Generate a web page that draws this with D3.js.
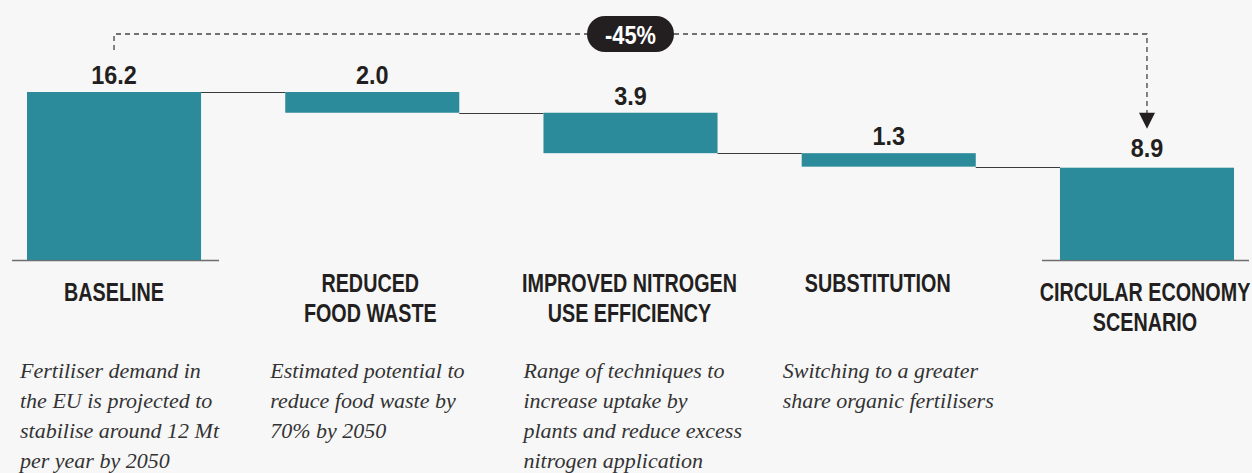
<!DOCTYPE html>
<html>
<head>
<meta charset="utf-8">
<script src="https://cdn.jsdelivr.net/npm/d3@7"></script>
<style>
  html, body { margin: 0; padding: 0; background: #f7f7f7; }
  svg { display: block; }
  .cond { font-family: "Liberation Sans Narrow", "Liberation Sans", Arial, sans-serif; font-weight: bold; }
  .desc { font-family: "Liberation Serif", "Times New Roman", serif; font-style: italic; }
</style>
</head>
<body>
<svg id="chart" width="1252" height="473"></svg>
<script>
// Waterfall: fertiliser demand (Mt) from baseline to the circular economy scenario
const categories = ["BASELINE", "REDUCED FOOD WASTE", "IMPROVED NITROGEN USE EFFICIENCY", "SUBSTITUTION", "CIRCULAR ECONOMY SCENARIO"];
const labelLines = [
  ["BASELINE"],
  ["REDUCED", "FOOD WASTE"],
  ["IMPROVED NITROGEN", "USE EFFICIENCY"],
  ["SUBSTITUTION"],
  ["CIRCULAR ECONOMY", "SCENARIO"]
];
const kinds = ["total", "decrease", "decrease", "decrease", "total"];
const values = [16.2, 2.0, 3.9, 1.3, 8.9];
const valueLabels = ["16.2", "2.0", "3.9", "1.3", "8.9"];
const descriptions = [
  ["Fertiliser demand in", "the EU is projected to", "stabilise around 12 Mt", "per year by 2050"],
  ["Estimated potential to", "reduce food waste by", "70% by 2050"],
  ["Range of techniques to", "increase uptake by", "plants and reduce excess", "nitrogen application"],
  ["Switching to a greater", "share organic fertilisers"],
  []
];
const changeLabel = "-45%";

const svg = d3.select("#chart");
const W = 1252, H = 473;
const teal = "#2c8b9b", ink = "#231f20";

svg.append("rect").attr("width", W).attr("height", H).attr("fill", "#f7f7f7");

const x = d3.scaleBand().domain(categories).range([27, 1234]).paddingInner(0.326).paddingOuter(0);
const y = d3.scaleLinear().domain([0, 16.2]).range([260, 92]);

// horizontally condensed text (narrow headline style)
function condText(parent, cx, cy, size, sx, lines, lineH, fill) {
  const t = parent.append("text")
    .attr("class", "cond")
    .attr("transform", `translate(${cx},${cy}) scale(${sx},1)`)
    .attr("text-anchor", "middle")
    .attr("font-size", size)
    .attr("fill", fill);
  lines.forEach((ln, k) => {
    t.append("tspan").attr("x", 0).attr("y", k * lineH).text(ln);
  });
  return t;
}

// running totals for floating bars
let running = 0;
const bars = categories.map((c, i) => {
  let top, bottom;
  if (kinds[i] === "total") {
    running = values[i];
    top = values[i]; bottom = 0;
  } else {
    top = running; bottom = running - values[i];
    running = bottom;
  }
  return { cat: c, i, top, bottom, end: running };
});

// baseline rules under the totals
bars.filter(b => kinds[b.i] === "total").forEach(b => {
  const left = b.i === 0 ? x(b.cat) - 15 : x(b.cat) - 18;
  const right = b.i === 0 ? x(b.cat) + x.bandwidth() + 18 : x(b.cat) + x.bandwidth() + 15;
  svg.append("line")
    .attr("x1", left).attr("x2", right)
    .attr("y1", y(0) + 0.5).attr("y2", y(0) + 0.5)
    .attr("stroke", "#6d6e71").attr("stroke-width", 1.6);
});

// connectors between consecutive bars
for (let i = 0; i < bars.length - 1; i++) {
  const a = bars[i], b = bars[i + 1];
  svg.append("line")
    .attr("x1", x(a.cat) + x.bandwidth()).attr("x2", x(b.cat))
    .attr("y1", Math.round(y(a.end)) + 0.5).attr("y2", Math.round(y(a.end)) + 0.5)
    .attr("stroke", "#3a3a3a").attr("stroke-width", 1.2);
}

svg.append("g").selectAll("rect").data(bars).join("rect")
  .attr("x", d => x(d.cat))
  .attr("y", d => y(d.top))
  .attr("width", x.bandwidth())
  .attr("height", d => y(d.bottom) - y(d.top))
  .attr("fill", teal);

// value labels
const valG = svg.append("g");
bars.forEach(d => {
  condText(valG, x(d.cat) + x.bandwidth() / 2,
    y(d.top) - (kinds[d.i] === "total" && d.i > 0 ? 11 : 8),
    26, 0.9, [valueLabels[d.i]], 0, ink);
});

// category labels
const labelShift = [0, -2, -1, -11, -2];
const catG = svg.append("g");
bars.forEach(b => {
  const startY = kinds[b.i] === "total" ? 301 : 292;
  condText(catG, x(b.cat) + x.bandwidth() / 2 + labelShift[b.i], startY, 26, 0.76, labelLines[b.i], 30, ink);
});

// descriptions
const descShift = [-7, -15, -20, -19, 0];
const descG = svg.append("g");
bars.forEach(b => {
  const t = descG.append("text")
    .attr("class", "desc")
    .attr("font-size", 22)
    .attr("fill", "#333333");
  descriptions[b.i].forEach((ln, k) => {
    t.append("tspan")
      .attr("x", x(b.cat) + descShift[b.i])
      .attr("y", 378 + k * 30)
      .text(ln);
  });
});

// dashed bracket from baseline total to scenario total
const first = bars[0], last = bars[bars.length - 1];
const cx0 = x(first.cat) + x.bandwidth() / 2;
const cx1 = x(last.cat) + x.bandwidth() / 2;
const yTop = 34;
const yStart = y(first.top) - 42;
const yArrowTip = y(last.top) - 39;
svg.append("path")
  .attr("d", `M${cx0},${yStart}V${yTop}H${cx1}V${yArrowTip - 14}`)
  .attr("fill", "none")
  .attr("stroke", "#444")
  .attr("stroke-width", 1.3)
  .attr("stroke-dasharray", "5,4");
svg.append("path")
  .attr("d", `M${cx1 - 8},${yArrowTip - 16}L${cx1 + 8},${yArrowTip - 16}L${cx1},${yArrowTip}Z`)
  .attr("fill", ink);

// change pill
const pcx = (cx0 + cx1) / 2;
svg.append("rect")
  .attr("x", pcx - 43.5).attr("y", yTop - 18)
  .attr("width", 87).attr("height", 36)
  .attr("rx", 18).attr("ry", 18)
  .attr("fill", ink);
condText(svg, pcx, yTop + 10, 26, 0.84, [changeLabel], 0, "#ffffff");
</script>
</body>
</html>
